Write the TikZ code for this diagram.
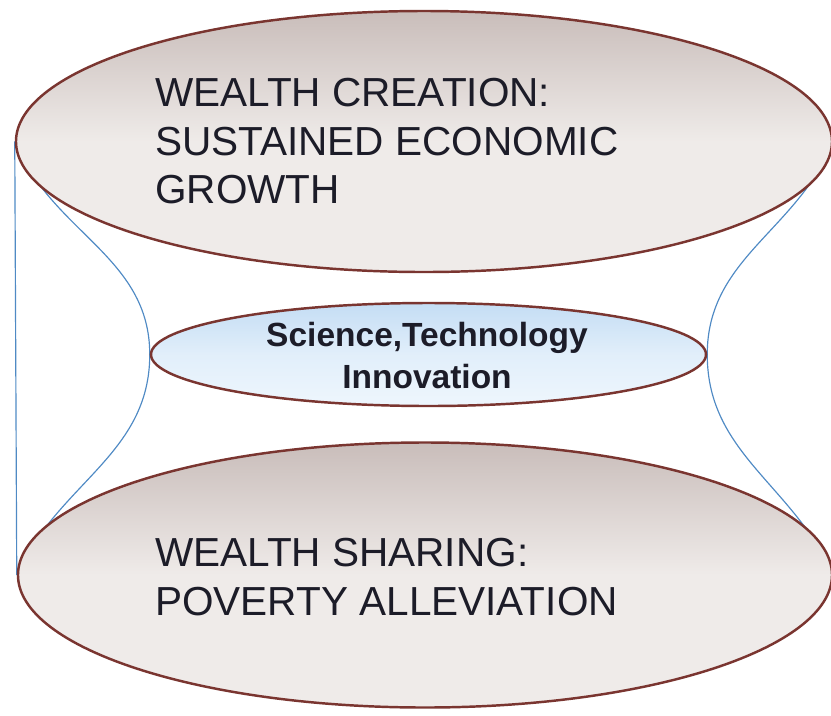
\documentclass[tikz,border=0pt]{standalone}
\usepackage{fontspec}
\setmainfont{Liberation Sans}
\usepackage{xcolor}
\usetikzlibrary{shapes.geometric,backgrounds}
\definecolor{rim}{HTML}{7A3530}
\definecolor{sandtop}{HTML}{C9BDBA}
\definecolor{sandbot}{HTML}{EFEBE9}
\definecolor{skytop}{HTML}{C4DDF4}
\definecolor{skybot}{HTML}{EEF6FD}
\definecolor{wire}{HTML}{4F8AC4}
\definecolor{ink}{HTML}{1C1C28}
\tikzset{
  big/.style={ellipse, draw=rim, line width=2.1pt, inner sep=0pt,
    top color=sandtop, bottom color=sandbot, middle color=sandbot},
  core/.style={ellipse, draw=rim, line width=2.1pt, inner sep=0pt,
    top color=skytop, bottom color=skybot, middle color=skybot!70!skytop},
  link/.style={draw=wire, line width=1pt},
  lab/.style={text=ink, inner sep=0pt, align=left, font=\fontsize{34.6}{41.4}\selectfont},
  labb/.style={text=ink, inner sep=0pt, align=center, font=\fontsize{28.6}{35.9}\selectfont\bfseries},
}

\begin{document}
\begin{tikzpicture}[x=0.03cm, y=-0.03cm]
  \useasboundingbox (0,0) rectangle (831,715);
  % the three rings
  \node[big, minimum width=24.48cm, minimum height=7.83cm] (top) at (424,141.5) {};
  \node[core, minimum width=16.65cm, minimum height=3.09cm] (mid) at (428.5,354.5) {};
  \node[big, minimum width=24.42cm, minimum height=7.95cm] (bot) at (425,575) {};
  \node[lab, anchor=north west] (create) at (155,78) {WEALTH CREATION:\\SUSTAINED ECONOMIC\\GROWTH};
  \node[labb, anchor=north] (sti) at (427,322) {Science,Technology\\Innovation};
  \node[lab, anchor=north west] (share) at (155,538) {WEALTH SHARING:\\POVERTY ALLEVIATION};
  % waist lines behind the rings
  \begin{scope}[on background layer]
    \draw[link] (top.west) -- (bot.west);
    \draw[link] (top.west) to[out=-68, in=90] (mid.west) to[out=-90, in=66] (bot.west);
    \draw[link] (top.east) to[out=-112, in=90] (mid.east) to[out=-90, in=114] (bot.east);
  \end{scope}
\end{tikzpicture}
\end{document}
